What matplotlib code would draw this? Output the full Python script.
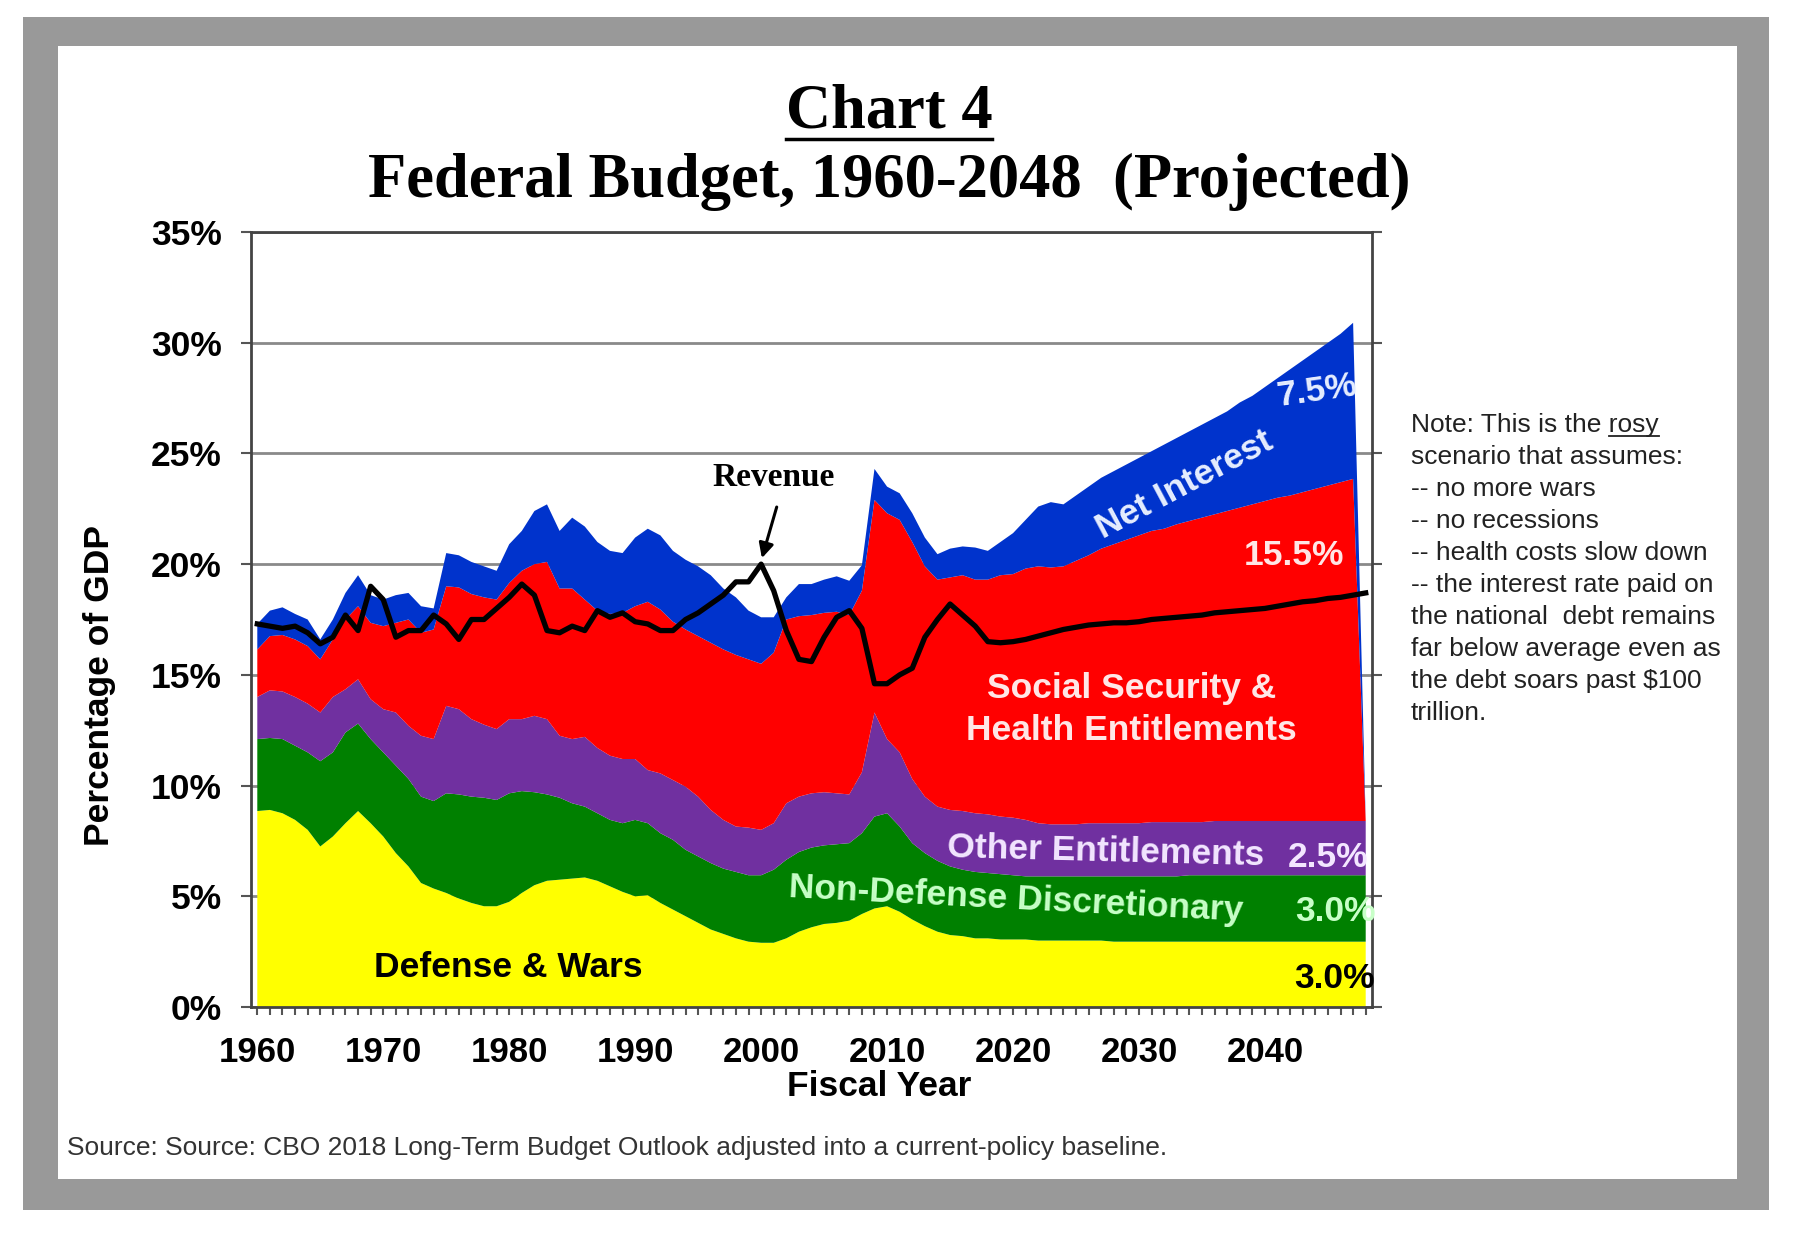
import matplotlib
matplotlib.use("Agg")
import matplotlib.pyplot as plt
from matplotlib.patches import Rectangle
from matplotlib.lines import Line2D

plt.rcParams['font.family'] = ['Liberation Sans', 'DejaVu Sans']

# ---------------- data (percent of GDP) ----------------
years = list(range(1960, 2049))

defense = [
    8.85, 8.9, 8.75, 8.45, 8.0, 7.25, 7.7, 8.3, 8.85, 8.3,
    7.7, 6.95, 6.35, 5.6, 5.35, 5.15, 4.9, 4.7, 4.55, 4.55,
    4.75, 5.15, 5.5, 5.7, 5.75, 5.8, 5.85, 5.7, 5.45, 5.2,
    5.0, 5.05, 4.7, 4.4, 4.1, 3.8, 3.5, 3.3, 3.1, 2.95,
    2.9, 2.9, 3.1, 3.4, 3.6, 3.75, 3.8, 3.9, 4.2, 4.45,
    4.55, 4.3, 3.95, 3.65, 3.4, 3.25, 3.2, 3.1, 3.1, 3.05,
    3.05, 3.05, 3.0, 3.0, 3.0, 3.0, 3.0, 3.0, 2.95, 2.95,
    2.95, 2.95, 2.95, 2.95, 2.95, 2.95, 2.95, 2.95, 2.95, 2.95,
    2.95, 2.95, 2.95, 2.95, 2.95, 2.95, 2.95, 2.95, 2.95,
]

non_defense = [
    3.25, 3.25, 3.35, 3.35, 3.5, 3.85, 3.8, 4.1, 3.95, 3.8,
    3.8, 3.95, 3.95, 3.9, 3.95, 4.5, 4.7, 4.8, 4.9, 4.8,
    4.9, 4.6, 4.2, 3.9, 3.7, 3.4, 3.2, 3.05, 3.0, 3.1,
    3.45, 3.25, 3.15, 3.15, 3.0, 3.0, 3.0, 2.95, 3.0, 3.0,
    3.05, 3.3, 3.55, 3.6, 3.6, 3.55, 3.55, 3.5, 3.65, 4.15,
    4.2, 3.85, 3.45, 3.3, 3.2, 3.1, 3.0, 3.0, 2.95, 2.95,
    2.9, 2.85, 2.9, 2.9, 2.9, 2.9, 2.9, 2.9, 2.95, 2.95,
    2.95, 2.95, 2.95, 2.95, 3.0, 3.0, 3.0, 3.0, 3.0, 3.0,
    3.0, 3.0, 3.0, 3.0, 3.0, 3.0, 3.0, 3.0, 3.0,
]

other_ent = [
    1.9, 2.15, 2.15, 2.2, 2.2, 2.2, 2.5, 1.95, 2.0, 1.8,
    1.95, 2.4, 2.4, 2.75, 2.8, 3.95, 3.85, 3.5, 3.3, 3.2,
    3.35, 3.25, 3.45, 3.4, 2.8, 2.9, 3.15, 2.95, 2.9, 2.9,
    2.75, 2.4, 2.7, 2.7, 2.85, 2.7, 2.4, 2.2, 2.05, 2.15,
    2.05, 2.1, 2.55, 2.5, 2.45, 2.4, 2.3, 2.2, 2.75, 4.7,
    3.35, 3.35, 2.9, 2.55, 2.45, 2.55, 2.65, 2.65, 2.65, 2.6,
    2.6, 2.55, 2.4, 2.35, 2.35, 2.35, 2.4, 2.4, 2.4, 2.4,
    2.4, 2.45, 2.45, 2.45, 2.4, 2.4, 2.45, 2.45, 2.45, 2.45,
    2.45, 2.45, 2.45, 2.45, 2.45, 2.45, 2.45, 2.45, 2.45,
]

ss_health = [
    2.15, 2.45, 2.55, 2.6, 2.6, 2.4, 2.6, 3.15, 3.3, 3.45,
    3.75, 4.05, 4.8, 4.65, 4.95, 5.4, 5.5, 5.65, 5.75, 5.85,
    6.15, 6.7, 6.85, 7.1, 6.65, 6.8, 6.2, 6.2, 6.4, 6.6,
    6.9, 7.6, 7.4, 7.15, 7.1, 7.25, 7.55, 7.7, 7.75, 7.6,
    7.5, 7.7, 8.3, 8.15, 8.05, 8.1, 8.2, 8.1, 8.2, 9.6,
    10.2, 10.5, 10.7, 10.4, 10.25, 10.5, 10.65, 10.55, 10.6, 10.9,
    11.0, 11.35, 11.6, 11.6, 11.65, 11.9, 12.1, 12.4, 12.6, 12.8,
    13.0, 13.15, 13.25, 13.45, 13.6, 13.75, 13.85, 14.0, 14.15, 14.3,
    14.45, 14.6, 14.7, 14.85, 15.0, 15.15, 15.3, 15.45, 0.0,
]

net_interest = [
    1.15, 1.15, 1.25, 1.15, 1.2, 0.9, 0.9, 1.2, 1.4, 1.25,
    1.2, 1.25, 1.2, 1.2, 0.95, 1.5, 1.45, 1.45, 1.4, 1.3,
    1.75, 1.8, 2.4, 2.6, 2.6, 3.2, 3.3, 3.1, 2.85, 2.7,
    3.1, 3.3, 3.35, 3.2, 3.15, 3.15, 3.05, 2.75, 2.6, 2.2,
    2.1, 1.6, 1.0, 1.45, 1.4, 1.5, 1.6, 1.55, 1.15, 1.4,
    1.2, 1.2, 1.3, 1.3, 1.15, 1.3, 1.3, 1.45, 1.3, 1.5,
    1.85, 2.2, 2.7, 2.95, 2.8, 2.95, 3.1, 3.2, 3.3, 3.4,
    3.5, 3.6, 3.8, 3.9, 4.05, 4.2, 4.35, 4.5, 4.75, 4.9,
    5.15, 5.4, 5.7, 5.95, 6.2, 6.45, 6.7, 7.05, 0.0,
]

revenue = [
    17.3, 17.2, 17.1, 17.2, 16.9, 16.4, 16.7, 17.7, 17.0, 19.0,
    18.4, 16.7, 17.0, 17.0, 17.7, 17.3, 16.6, 17.5, 17.5, 18.0,
    18.5, 19.1, 18.6, 17.0, 16.9, 17.2, 17.0, 17.9, 17.6, 17.8,
    17.4, 17.3, 17.0, 17.0, 17.5, 17.8, 18.2, 18.6, 19.2, 19.2,
    20.0, 18.8, 17.0, 15.7, 15.6, 16.7, 17.6, 17.9, 17.1, 14.6,
    14.6, 15.0, 15.3, 16.7, 17.5, 18.2, 17.7, 17.2, 16.5, 16.45,
    16.5, 16.6, 16.75, 16.9, 17.05, 17.15, 17.25, 17.3, 17.35, 17.35,
    17.4, 17.5, 17.55, 17.6, 17.65, 17.7, 17.8, 17.85, 17.9, 17.95,
    18.0, 18.1, 18.2, 18.3, 18.35, 18.45, 18.5, 18.6, 18.7,
]

y_ticks = [0, 5, 10, 15, 20, 25, 30, 35]
x_label_years = [1960, 1970, 1980, 1990, 2000, 2010, 2020, 2030, 2040]

colors = ['#FFFF00', '#008000', '#7030A0', '#FF0000', '#0033CC']

note_lines = [
    "Note: This is the rosy",
    "scenario that assumes:",
    "-- no more wars",
    "-- no recessions",
    "-- health costs slow down",
    "-- the interest rate paid on",
    "the national  debt remains",
    "far below average even as",
    "the debt soars past \\$100",
    "trillion.",
]

# ---------------- figure ----------------
W, H = 1800, 1240
fig = plt.figure(figsize=(W / 100, H / 100), dpi=100)
fig.patch.set_facecolor('white')


def fx(x):
    return x / W


def fy(y):
    return 1 - y / H


# gray frame
fig.add_artist(Rectangle((fx(23), fy(1210)), (1769 - 23) / W, (1210 - 17) / H,
                         transform=fig.transFigure, facecolor='#999999',
                         edgecolor='none', zorder=-5))
fig.add_artist(Rectangle((fx(58), fy(1179)), (1737 - 58) / W, (1179 - 46) / H,
                         transform=fig.transFigure, facecolor='white',
                         edgecolor='none', zorder=-4))

ax = fig.add_axes([fx(251), fy(1007), (1372 - 251) / W, (1007 - 232) / H])
ax.set_facecolor('white')

ax.stackplot(years, defense, non_defense, other_ent, ss_health, net_interest,
             colors=colors, linewidth=0, zorder=2)
ax.plot(years, revenue, color='black', lw=3.8, zorder=4, solid_joinstyle='round')

ax.set_xlim(1959.5, 2048.5)
ax.set_ylim(0, 35)
ax.set_yticks(y_ticks)
ax.set_yticklabels([f"{v}%" for v in y_ticks], fontsize=25.5, fontweight='bold')
ax.set_xticks(x_label_years)
ax.set_xticklabels([str(v) for v in x_label_years], fontsize=25, fontweight='bold')
ax.set_xticks(years, minor=True)
ax.tick_params(axis='x', which='both', direction='out', length=6, width=1.5,
               color='#555555', pad=15)
ax.tick_params(axis='y', which='major', direction='out', length=7, width=1.5,
               color='#555555', pad=14, right=True)

ax.set_axisbelow(True)
ax.yaxis.grid(True, color='#8a8a8a', lw=2, zorder=0)
for s in ax.spines.values():
    s.set_color('#444444')
    s.set_linewidth(2)
    s.set_zorder(5)

# axis titles
fig.text(fx(100), fy(686), "Percentage of GDP", rotation=90, ha='center', va='center',
         fontsize=25.5, fontweight='bold')
fig.text(fx(879), fy(1086), "Fiscal Year", ha='center', va='center',
         fontsize=25.5, fontweight='bold')

# titles
serif = ['Liberation Serif', 'DejaVu Serif']
t1 = fig.text(fx(889), fy(112), "Chart 4", ha='center', va='center',
              fontsize=45, fontweight='bold', family=serif)
fig.text(fx(889), fy(182), "Federal Budget, 1960-2048  (Projected)", ha='center',
         va='center', fontsize=45, fontweight='bold', family=serif)

# in-chart labels
LBL = 25.5
ax.text(2001.0, 23.9, "Revenue", ha='center', va='center', fontsize=24,
        fontweight='bold', family=serif, zorder=6)
ax.annotate("", xy=(2000.0, 20.15), xytext=(2001.3, 22.7),
            arrowprops=dict(arrowstyle='-|>', color='black', lw=2.2,
                            mutation_scale=22), zorder=6)

ax.text(1979.9, 1.8, "Defense & Wars", ha='center', va='center', fontsize=LBL,
        fontweight='bold', color='black', zorder=6)
ax.text(2020.2, 4.85, "Non-Defense Discretionary", ha='center', va='center',
        fontsize=LBL, fontweight='bold', color='#C8FFC8', rotation=-3,
        rotation_mode='anchor', zorder=6)
ax.text(2027.4, 7.0, "Other Entitlements", ha='center', va='center', fontsize=LBL,
        fontweight='bold', color='#F3E6FF', rotation=-1.5, rotation_mode='anchor',
        zorder=6)
ax.text(2045.0, 6.75, "2.5%", ha='center', va='center', fontsize=LBL,
        fontweight='bold', color='#F3E6FF', zorder=6)
ax.text(2045.6, 4.3, "3.0%", ha='center', va='center', fontsize=LBL,
        fontweight='bold', color='#C8FFC8', zorder=6)
ax.text(2045.5, 1.3, "3.0%", ha='center', va='center', fontsize=LBL,
        fontweight='bold', color='black', zorder=6)
ax.text(2029.4, 14.4, "Social Security &", ha='center', va='center', fontsize=LBL,
        fontweight='bold', color='#FFE6E6', zorder=6)
ax.text(2029.4, 12.5, "Health Entitlements", ha='center', va='center', fontsize=LBL,
        fontweight='bold', color='#FFE6E6', zorder=6)
ax.text(2042.3, 20.4, "15.5%", ha='center', va='center', fontsize=LBL,
        fontweight='bold', color='#FFE6E6', zorder=6)
ax.text(2033.6, 23.6, "Net Interest", ha='center', va='center', fontsize=LBL,
        fontweight='bold', color='#E6EEFF', rotation=28, rotation_mode='anchor',
        zorder=6)
ax.text(2044.1, 27.8, "7.5%", ha='center', va='center', fontsize=LBL,
        fontweight='bold', color='#E6EEFF', rotation=8, rotation_mode='anchor',
        zorder=6)

# note
NOTE_FS = 19
note_texts = []
for i, line in enumerate(note_lines):
    note_texts.append(fig.text(fx(1411), fy(425 + 32 * i), line, ha='left', va='center',
                               fontsize=NOTE_FS, color='#222222'))

# source
fig.text(fx(67), fy(1148),
         "Source: Source: CBO 2018 Long-Term Budget Outlook adjusted into a current-policy baseline.",
         ha='left', va='center', fontsize=19, color='#333333')

# underlines (Chart 4 and "rosy")
fig.canvas.draw()
r = fig.canvas.get_renderer()
bb = t1.get_window_extent(r)
fig.add_artist(Line2D([bb.x0 / W, bb.x1 / W], [(bb.y0 + 2) / H] * 2,
                      transform=fig.transFigure, color='black', lw=2.5))
first = note_texts[0]
bb_all = first.get_window_extent(r)
tmp = fig.text(fx(1411), fy(425), "Note: This is the ", ha='left', va='center',
               fontsize=NOTE_FS, color='none')
bb_pre = tmp.get_window_extent(r)
fig.add_artist(Line2D([bb_pre.x1 / W, bb_all.x1 / W], [(bb_all.y0 + 1) / H] * 2,
                      transform=fig.transFigure, color='#222222', lw=1.3))

fig.savefig("out.png", dpi=100, facecolor='white')
